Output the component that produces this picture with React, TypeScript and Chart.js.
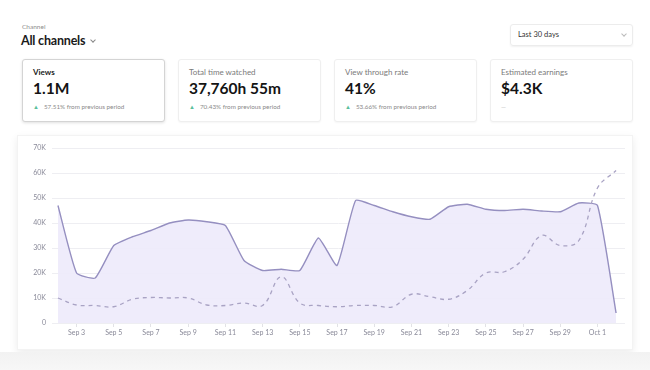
import React, { useEffect, useRef } from "react";
import { Chart, registerables } from "chart.js";

Chart.register(...registerables);

const dates = [
  "Sep 2", "Sep 3", "Sep 4", "Sep 5", "Sep 6", "Sep 7", "Sep 8", "Sep 9", "Sep 10", "Sep 11",
  "Sep 12", "Sep 13", "Sep 14", "Sep 15", "Sep 16", "Sep 17", "Sep 18", "Sep 19", "Sep 20", "Sep 21",
  "Sep 22", "Sep 23", "Sep 24", "Sep 25", "Sep 26", "Sep 27", "Sep 28", "Sep 29", "Sep 30", "Oct 1", "Oct 2",
];
const currentViews = [
  47000, 20000, 18000, 31000, 34500, 37000, 40000, 41200, 40500, 39000,
  25000, 21000, 21500, 21000, 34000, 23000, 49000, 47000, 44500, 42500,
  41500, 46500, 47500, 45500, 45000, 45500, 44800, 44500, 48000, 47000, 4000,
];
const previousViews = [
  10000, 7200, 7000, 6500, 9500, 10200, 10000, 10000, 7200, 7000,
  8000, 7000, 18500, 8000, 7000, 6500, 7000, 7000, 6500, 11500,
  10500, 9500, 13000, 20000, 20500, 25500, 35000, 31000, 33000, 54000, 61000,
];
const yTicks = [0, 10000, 20000, 30000, 40000, 50000, 60000, 70000];

const cards = [
  { title: "Views", value: "1.1M", change: "57.51% from previous period", active: true },
  { title: "Total time watched", value: "37,760h 55m", change: "70.43% from previous period", active: false },
  { title: "View through rate", value: "41%", change: "53.66% from previous period", active: false },
  { title: "Estimated earnings", value: "$4.3K", change: "", active: false },
];
const cardLefts = [22, 178, 334, 490];

const FONT = "Lato, 'Noto Sans', sans-serif";

function Chevron({ left, top, color }: { left: number; top: number; color: string }) {
  return (
    <div
      style={{
        position: "absolute",
        left,
        top,
        width: 3,
        height: 3,
        borderRight: `1px solid ${color}`,
        borderBottom: `1px solid ${color}`,
        transform: "rotate(45deg)",
      }}
    />
  );
}

export default function App() {
  const ref = useRef<HTMLCanvasElement>(null);
  useEffect(() => {
    if (!ref.current) return;
    const chart = new Chart(ref.current, {
      type: "line",
      data: {
        datasets: [
          {
            data: currentViews.map((v, i) => ({ x: i, y: v })),
            borderColor: "#958fc0",
            backgroundColor: "rgba(237,234,251,0.9)",
            fill: "origin",
            borderWidth: 1.4,
            pointRadius: 0,
            tension: 0.15,
            order: 2,
          },
          {
            data: previousViews.map((v, i) => ({ x: i, y: v })),
            borderColor: "#a9a3c4",
            borderDash: [4, 4],
            fill: false,
            borderWidth: 1.3,
            pointRadius: 0,
            tension: 0.4,
            order: 1,
          },
        ],
      },
      options: {
        animation: false,
        responsive: false,
        maintainAspectRatio: false,
        layout: { padding: { left: 0, right: 8, top: 13, bottom: 0 } },
        plugins: { legend: { display: false }, tooltip: { enabled: false } },
        scales: {
          x: {
            type: "linear",
            min: -0.32,
            max: 30.48,
            afterBuildTicks: (axis: any) => {
              axis.ticks = dates.map((_, i) => ({ value: i }));
            },
            afterFit: (axis: any) => {
              axis.height = 27;
            },
            border: { display: false },
            grid: {
              drawOnChartArea: false,
              tickLength: 4,
              color: (ctx: any) => (ctx.tick && ctx.tick.value % 2 === 1 ? "#e2e2e6" : "rgba(0,0,0,0)"),
            },
            ticks: {
              autoSkip: false,
              maxRotation: 0,
              padding: 2,
              color: "#8a8a99",
              font: { family: FONT, size: 7 },
              callback: (v: any) => (Number(v) % 2 === 1 ? dates[Number(v)] : ""),
            },
          },
          y: {
            min: 0,
            max: 70000,
            afterBuildTicks: (axis: any) => {
              axis.ticks = yTicks.map((v) => ({ value: v }));
            },
            afterFit: (axis: any) => {
              axis.width = 35;
            },
            border: { display: false },
            grid: { color: "#eeeef2", tickLength: 0 },
            ticks: {
              padding: 6,
              color: "#8a8a99",
              font: { family: FONT, size: 7 },
              callback: (v: any) => (Number(v) === 0 ? "0" : Number(v) / 1000 + "K"),
            },
          },
        },
      },
    });
    return () => chart.destroy();
  }, []);

  return (
    <div
      style={{
        position: "fixed",
        left: 0,
        top: 0,
        width: 650,
        height: 370,
        background: "#ffffff",
        fontFamily: FONT,
        overflow: "hidden",
      }}
    >
      <div style={{ position: "absolute", left: 22, top: 23, fontSize: 6.5, color: "#8d8d8d" }}>Channel</div>
      <div
        style={{
          position: "absolute",
          left: 21,
          top: 33,
          fontSize: 12.5,
          fontWeight: 700,
          letterSpacing: -0.2,
          color: "#1a1a1a",
          whiteSpace: "nowrap",
        }}
      >
        All channels
      </div>
      <Chevron left={91} top={38} color="#888" />
      <div
        style={{
          position: "absolute",
          left: 510,
          top: 24,
          width: 123,
          height: 22,
          boxSizing: "border-box",
          border: "1px solid #ececec",
          borderRadius: 3,
          boxShadow: "0 1px 2px rgba(0,0,0,0.06)",
          fontSize: 7.5,
          color: "#333",
          lineHeight: "20px",
          paddingLeft: 7,
        }}
      >
        Last 30 days
      </div>
      <Chevron left={622} top={32} color="#bbb" />
      {cards.map((c, i) => (
        <div
          key={c.title}
          style={{
            position: "absolute",
            left: cardLefts[i],
            top: 59,
            width: 143,
            height: 63,
            boxSizing: "border-box",
            border: c.active ? "1px solid #d4d4d4" : "1px solid #efefef",
            borderRadius: 3,
            boxShadow: c.active ? "0 1px 3px rgba(0,0,0,0.12)" : "0 1px 2px rgba(0,0,0,0.04)",
            background: "#fff",
          }}
        >
          <div
            style={{
              position: "absolute",
              left: 10,
              top: 7,
              fontSize: 8,
              fontWeight: c.active ? 700 : 400,
              color: c.active ? "#222" : "#7a7a7a",
              whiteSpace: "nowrap",
            }}
          >
            {c.title}
          </div>
          <div
            style={{
              position: "absolute",
              left: 10,
              top: 19,
              fontSize: 15.5,
              fontWeight: 700,
              color: "#141414",
              whiteSpace: "nowrap",
            }}
          >
            {c.value}
          </div>
          <div
            style={{
              position: "absolute",
              left: 10,
              top: 43,
              fontSize: 6.3,
              color: "#8a8a8a",
              whiteSpace: "nowrap",
            }}
          >
            {c.change ? (
              <>
                <span style={{ color: "#5cbf9c", fontSize: 6, marginRight: 5 }}>▲</span>
                {c.change}
              </>
            ) : (
              <span style={{ color: "#bbb" }}>—</span>
            )}
          </div>
        </div>
      ))}
      <div
        style={{
          position: "absolute",
          left: 17,
          top: 135,
          width: 616,
          height: 215,
          background: "#fff",
          border: "1px solid #f3f3f3",
          boxShadow: "0 3px 8px rgba(0,0,0,0.08)",
          boxSizing: "border-box",
        }}
      />
      <canvas
        ref={ref}
        width={616}
        height={215}
        style={{ position: "absolute", left: 17, top: 135, width: 616, height: 215 }}
      />
      <div
        style={{
          position: "absolute",
          left: 0,
          top: 352,
          width: 650,
          height: 18,
          background: "linear-gradient(#f2f2f2, #f7f7f7)",
        }}
      />
    </div>
  );
}
